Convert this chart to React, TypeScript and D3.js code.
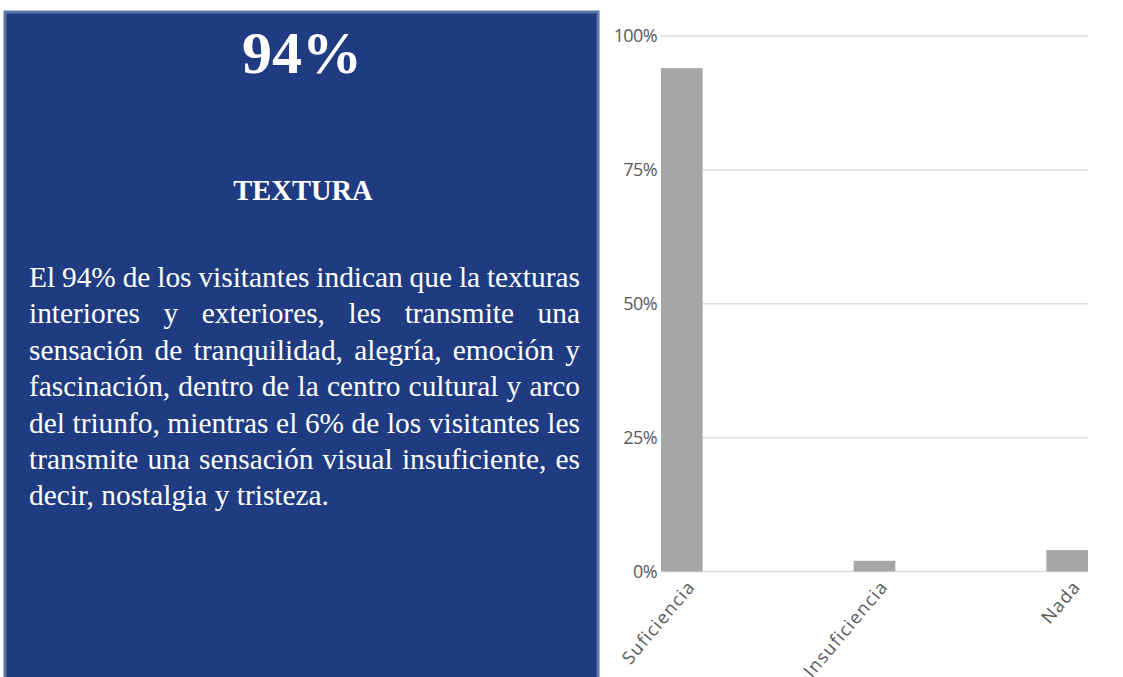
import React, { useEffect, useRef } from 'react';
import * as d3 from 'd3';

const categories = ['Suficiencia', 'Insuficiencia', 'Nada'];
const values = [94, 2, 4];
const yTicks = [0, 25, 50, 75, 100];

const headline = '94%';
const title = 'TEXTURA';
const paragraph = [
  'El 94% de los visitantes indican que la texturas',
  'interiores y exteriores, les transmite una',
  'sensación de tranquilidad, alegría, emoción y',
  'fascinación, dentro de la centro cultural y arco',
  'del triunfo, mientras el 6% de los visitantes les',
  'transmite una sensación visual insuficiente, es',
  'decir, nostalgia y tristeza.',
];

const W = 1123;
const H = 677;

const App = () => {
  const ref = useRef<SVGSVGElement>(null);

  useEffect(() => {
    const svg = d3.select(ref.current);
    svg.selectAll('*').remove();

    // left panel
    svg.append('rect')
      .attr('x', 5).attr('y', 12)
      .attr('width', 593).attr('height', 670)
      .attr('fill', '#1f3c82')
      .attr('stroke', '#5b78a8')
      .attr('stroke-width', 3);

    const serif = '"Liberation Serif", "Times New Roman", serif';

    svg.append('text')
      .attr('x', 302).attr('y', 73)
      .attr('text-anchor', 'middle')
      .attr('font-family', serif)
      .attr('font-weight', 'bold')
      .attr('font-size', 60)
      .attr('fill', '#fff')
      .text(headline);

    svg.append('text')
      .attr('x', 303).attr('y', 200)
      .attr('text-anchor', 'middle')
      .attr('font-family', serif)
      .attr('font-weight', 'bold')
      .attr('font-size', 28.5)
      .attr('fill', '#fff')
      .text(title);

    const left = 29;
    const right = 580;
    paragraph.forEach((line, i) => {
      const t = svg.append('text')
        .attr('x', left)
        .attr('y', 287 + i * 36.4)
        .attr('font-family', serif)
        .attr('font-size', 29.4)
        .attr('fill', '#fff')
        .attr('xml:space', 'preserve')
        .text(line);
      // justify all but the last line
      if (i < paragraph.length - 1) {
        const node = t.node() as SVGTextElement;
        const natural = node.getComputedTextLength();
        const gaps = line.split(' ').length - 1;
        if (gaps > 0) t.attr('word-spacing', (right - left - natural) / gaps);
      }
    });

    // chart
    const x = d3.scaleBand<string>()
      .domain(categories)
      .range([661, 1088])
      .paddingInner(0.784)
      .paddingOuter(0);

    const y = d3.scaleLinear().domain([0, 100]).range([571.5, 36]);

    const chartFont = '"Open Sans", sans-serif';

    svg.append('g')
      .selectAll('line')
      .data(yTicks)
      .enter()
      .append('line')
      .attr('x1', 661).attr('x2', 1088)
      .attr('y1', d => y(d)).attr('y2', d => y(d))
      .attr('stroke', '#dcdcdc')
      .attr('stroke-width', 1.5);

    svg.append('g')
      .selectAll('text')
      .data(yTicks)
      .enter()
      .append('text')
      .attr('x', 657)
      .attr('y', d => y(d) + 6)
      .attr('text-anchor', 'end')
      .attr('font-family', chartFont)
      .attr('font-size', 18)
      .attr('letter-spacing', -0.6)
      .attr('fill', '#595959')
      .text(d => d + '%');

    svg.append('g')
      .selectAll('rect')
      .data(values)
      .enter()
      .append('rect')
      .attr('x', (d, i) => x(categories[i]) as number)
      .attr('y', d => y(d))
      .attr('width', x.bandwidth())
      .attr('height', d => y(0) - y(d))
      .attr('fill', '#a6a6a6');

    svg.append('g')
      .selectAll('text')
      .data(categories)
      .enter()
      .append('text')
      .attr('transform', d => {
        const cx = (x(d) as number) + x.bandwidth() / 2 + 4;
        return `translate(${cx},${y(0) + 7}) rotate(-50)`;
      })
      .attr('text-anchor', 'end')
      .attr('dy', '0.75em')
      .attr('font-family', chartFont)
      .attr('font-size', 18)
      .attr('letter-spacing', 1.2)
      .attr('fill', '#595959')
      .text(d => d);
  }, []);

  return (
    <svg
      ref={ref}
      width={W}
      height={H}
      style={{ position: 'absolute', left: 0, top: 0, background: '#fff' }}
    />
  );
};

export default App;
